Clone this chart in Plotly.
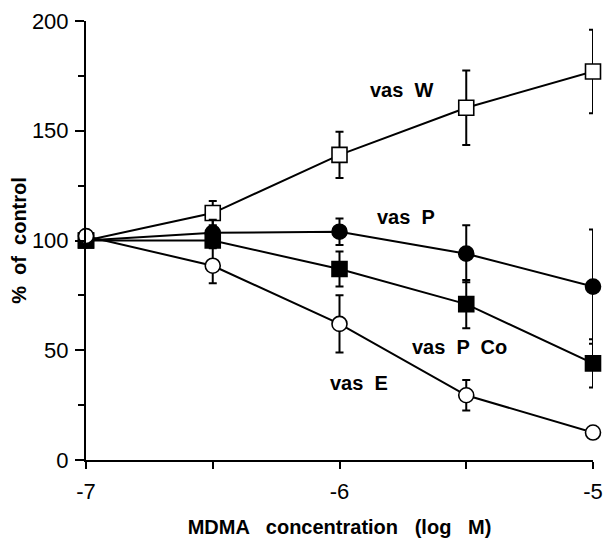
import plotly.graph_objects as go

# ---- data ----
log_conc = [-7, -6.5, -6, -5.5, -5]

vas_w = [100, 112.5, 139, 160.5, 177]
vas_w_err = [0, 5.5, 10.5, 17, 19]

vas_p = [100, 103.5, 104, 94, 79]
vas_p_err = [0, 6, 6, 13, 26]

vas_pco = [100, 100, 87, 71, 44]
vas_pco_err = [0, 3, 8, 11, 11]

vas_e = [102, 88.5, 62, 29.5, 12.5]
vas_e_err = [0, 8, 13, 7, 0]

x_tickvals = [-7, -6.5, -6, -5.5, -5]
x_ticktext = ["-7", "", "-6", "", "-5"]
y_tickvals = [0, 50, 100, 150, 200]

series = [
    ("vas  W", vas_w, vas_w_err, "square", "white"),
    ("vas  P", vas_p, vas_p_err, "circle", "black"),
    ("vas  P  Co", vas_pco, vas_pco_err, "square", "black"),
    ("vas  E", vas_e, vas_e_err, "circle", "white"),
]

# label positions (data coords)
labels = [
    ("vas  W", -5.757, 168.6),
    ("vas  P", -5.738, 110.8),
    ("vas  P  Co", -5.526, 51.6),
    ("vas  E", -5.924, 35.2),
]

FONT = "Liberation Sans, Arial, Helvetica, sans-serif"

fig = go.Figure()
for name, vals, err, sym, fill in series:
    fig.add_trace(go.Scatter(
        x=log_conc, y=vals, name=name, mode="lines+markers",
        line=dict(color="black", width=2),
        marker=dict(symbol=sym, size=15, color=fill, line=dict(color="black", width=1.6)),
        error_y=dict(type="data", array=err, visible=True, color="black", thickness=2, width=4),
        cliponaxis=False, showlegend=False,
    ))

for text, lx, ly in labels:
    fig.add_annotation(x=lx, y=ly, text=f"<b>{text}</b>", showarrow=False,
                       font=dict(family=FONT, size=20, color="black"),
                       xanchor="center", yanchor="middle")

fig.update_layout(
    width=605, height=538,
    margin=dict(l=86, r=12, t=21, b=78),
    paper_bgcolor="white", plot_bgcolor="white",
    font=dict(family=FONT, color="black"),
    xaxis=dict(
        range=[-7, -5], showgrid=False, zeroline=False, automargin=False,
        showline=True, linecolor="black", linewidth=2,
        ticks="outside", ticklen=7, tickwidth=2, tickcolor="black",
        tickvals=x_tickvals, ticktext=x_ticktext,
        tickfont=dict(family=FONT, size=22, color="black"),
        ticklabelstandoff=4,
        title=dict(text="<b>MDMA   concentration   (log   M)</b>",
                   font=dict(family=FONT, size=20, color="black"), standoff=18),
    ),
    yaxis=dict(
        range=[0, 200], showgrid=False, zeroline=False, automargin=False,
        showline=True, linecolor="black", linewidth=2,
        ticks="outside", ticklen=9, tickwidth=2, tickcolor="black",
        tickvals=y_tickvals,
        tickfont=dict(family=FONT, size=22, color="black"),
        ticklabelstandoff=2,
        minor=dict(tickvals=[25, 75, 125, 175], ticks="outside", ticklen=6,
                   tickwidth=2, tickcolor="black", showgrid=False),
        title=dict(text="<b>%  of  control</b>",
                   font=dict(family=FONT, size=20, color="black"), standoff=0),
    ),
)

fig.write_html("out.html")
